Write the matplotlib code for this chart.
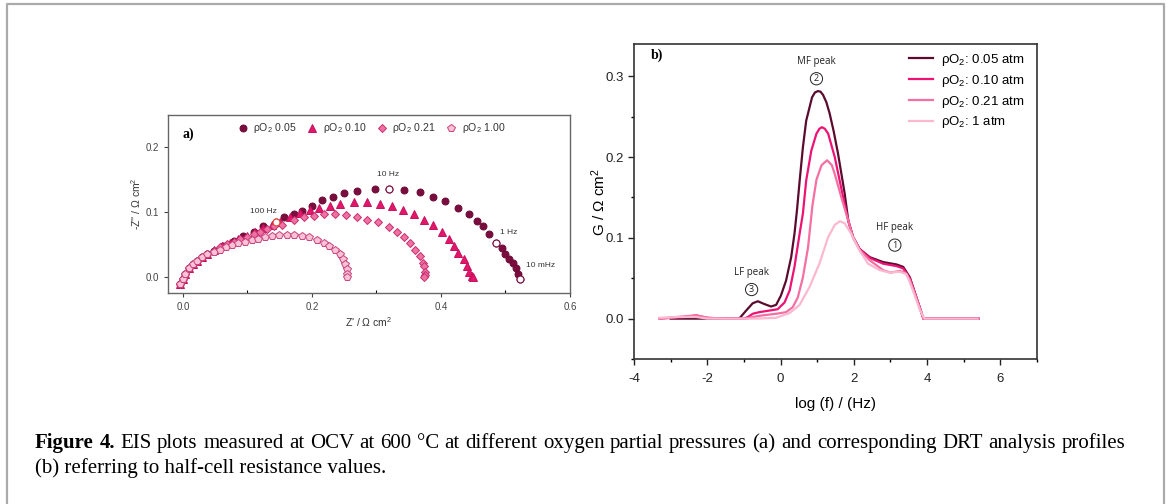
import matplotlib
matplotlib.use('Agg')
import matplotlib.pyplot as plt
from matplotlib.ticker import MultipleLocator

plt.rcParams['font.family'] = ['Liberation Sans', 'DejaVu Sans']
plt.rcParams['mathtext.fontset'] = 'custom'
plt.rcParams['mathtext.rm'] = 'Liberation Sans'
plt.rcParams['mathtext.it'] = 'Liberation Sans:italic'
plt.rcParams['axes.unicode_minus'] = False

# ---- panel a: Nyquist data (Z', -Z'' in ohm cm2) ----
nyq_labels = ['0.05', '0.10', '0.21', '1.00']
re_005 = [-0.004, 0.000, 0.004, 0.009, 0.015, 0.022, 0.029, 0.038, 0.048, 0.063, 0.079, 0.094, 0.110, 0.125,
          0.144, 0.156, 0.172, 0.184, 0.200, 0.216, 0.233, 0.249, 0.270, 0.298, 0.320, 0.343, 0.367, 0.388,
          0.406, 0.426, 0.443, 0.456, 0.465, 0.474, 0.485, 0.494, 0.500, 0.506, 0.512, 0.516, 0.519, 0.522]
im_005 = [-0.011, -0.003, 0.005, 0.013, 0.020, 0.025, 0.030, 0.035, 0.040, 0.048, 0.055, 0.063, 0.070, 0.078,
          0.085, 0.092, 0.097, 0.102, 0.110, 0.118, 0.123, 0.130, 0.133, 0.135, 0.136, 0.134, 0.131, 0.124,
          0.117, 0.107, 0.097, 0.087, 0.078, 0.066, 0.053, 0.044, 0.036, 0.028, 0.021, 0.013, 0.005, -0.003]
re_010 = [-0.004, 0.000, 0.004, 0.009, 0.015, 0.022, 0.029, 0.038, 0.048, 0.060, 0.073, 0.086, 0.099, 0.112,
          0.125, 0.138, 0.151, 0.166, 0.182, 0.197, 0.211, 0.228, 0.244, 0.265, 0.285, 0.306, 0.324, 0.341,
          0.359, 0.373, 0.387, 0.402, 0.412, 0.421, 0.427, 0.435, 0.440, 0.444, 0.448, 0.450]
im_010 = [-0.011, -0.003, 0.005, 0.013, 0.020, 0.025, 0.030, 0.035, 0.041, 0.047, 0.053, 0.058, 0.063, 0.069,
          0.075, 0.080, 0.085, 0.092, 0.098, 0.104, 0.106, 0.110, 0.112, 0.116, 0.116, 0.113, 0.110, 0.104,
          0.097, 0.088, 0.080, 0.069, 0.058, 0.048, 0.037, 0.027, 0.017, 0.008, 0.002, 0.000]
re_021 = [-0.004, 0.000, 0.004, 0.009, 0.015, 0.022, 0.029, 0.038, 0.048, 0.058, 0.068, 0.079, 0.089, 0.099,
          0.110, 0.120, 0.130, 0.141, 0.153, 0.172, 0.187, 0.203, 0.218, 0.236, 0.253, 0.270, 0.286, 0.303,
          0.319, 0.332, 0.342, 0.352, 0.360, 0.367, 0.372, 0.374, 0.376, 0.376, 0.373]
im_021 = [-0.011, -0.003, 0.005, 0.013, 0.020, 0.025, 0.030, 0.035, 0.040, 0.046, 0.050, 0.054, 0.059, 0.062,
          0.066, 0.070, 0.074, 0.078, 0.080, 0.088, 0.092, 0.094, 0.097, 0.097, 0.096, 0.092, 0.088, 0.084,
          0.077, 0.069, 0.062, 0.053, 0.042, 0.032, 0.021, 0.016, 0.008, 0.003, 0.000]
re_100 = [-0.004, 0.000, 0.004, 0.009, 0.015, 0.022, 0.029, 0.038, 0.048, 0.057, 0.067, 0.076, 0.086, 0.097,
          0.107, 0.117, 0.128, 0.138, 0.149, 0.161, 0.173, 0.184, 0.196, 0.208, 0.218, 0.227, 0.236, 0.243,
          0.248, 0.252, 0.254, 0.255, 0.255]
im_100 = [-0.011, -0.003, 0.005, 0.013, 0.020, 0.025, 0.030, 0.035, 0.039, 0.042, 0.046, 0.049, 0.052, 0.054,
          0.057, 0.059, 0.061, 0.063, 0.064, 0.064, 0.064, 0.063, 0.061, 0.057, 0.053, 0.048, 0.041, 0.035,
          0.027, 0.020, 0.012, 0.005, 0.000]
# frequency markers on the 0.05 series (index into re_005 / im_005)
freq_names = ['100 Hz', '10 Hz', '1 Hz', '10 mHz']
freq_idx = [14, 24, 34, 41]

# ---- panel b: DRT profiles ----
drt_labels = ['0.05 atm', '0.10 atm', '0.21 atm', '1 atm']
lf_005 = [-3.0, -2.0, -1.3, -1.12, -0.94, -0.76, -0.62, -0.44, -0.26, -0.12, 0.01, 0.15, 0.29, 0.38, 0.45, 0.52,
          0.61, 0.70, 0.86, 0.94, 1.02, 1.09, 1.16, 1.25, 1.34, 1.45, 1.57, 1.75, 1.85, 1.98, 2.16, 2.44, 2.80,
          3.17, 3.35, 3.53, 3.71, 3.90, 5.40]
g_005 = [0.0, 0.0, 0.0, 0.0004, 0.0099, 0.019, 0.0215, 0.018, 0.015, 0.017, 0.0285, 0.047, 0.076, 0.105, 0.135,
         0.170, 0.212, 0.245, 0.274, 0.280, 0.2817, 0.281, 0.277, 0.268, 0.254, 0.232, 0.204, 0.155, 0.121, 0.101,
         0.086, 0.076, 0.070, 0.067, 0.064, 0.051, 0.026, 0.0, 0.0]
lf_010 = [-3.3, -2.6, -2.3, -2.0, -1.5, -1.0, -0.89, -0.76, -0.58, -0.30, -0.08, 0.11, 0.25, 0.38, 0.52, 0.61,
          0.70, 0.84, 0.98, 1.06, 1.13, 1.21, 1.30, 1.48, 1.71, 1.85, 1.98, 2.16, 2.44, 2.80, 3.17, 3.35, 3.53,
          3.71, 3.90, 5.40]
g_010 = [0.0, 0.002, 0.004, 0.001, 0.0, 0.0, 0.002, 0.006, 0.008, 0.010, 0.0116, 0.020, 0.035, 0.064, 0.105,
         0.130, 0.171, 0.208, 0.229, 0.235, 0.237, 0.235, 0.229, 0.200, 0.150, 0.121, 0.101, 0.086, 0.075, 0.068,
         0.065, 0.062, 0.050, 0.026, 0.0, 0.0]
lf_021 = [-3.3, -2.6, -2.3, -2.0, -1.5, -0.94, -0.76, -0.49, -0.12, 0.15, 0.33, 0.47, 0.61, 0.75, 0.87, 0.98,
          1.12, 1.27, 1.40, 1.48, 1.66, 1.85, 1.98, 2.16, 2.44, 2.80, 3.00, 3.25, 3.40, 3.53, 3.71, 3.90, 5.40]
g_021 = [0.0, 0.003, 0.004, 0.001, 0.0, 0.0, 0.002, 0.004, 0.006, 0.008, 0.014, 0.026, 0.051, 0.088, 0.140,
         0.172, 0.190, 0.196, 0.190, 0.179, 0.150, 0.121, 0.100, 0.085, 0.072, 0.060, 0.057, 0.059, 0.057,
         0.048, 0.025, 0.0, 0.0]
lf_100 = [-3.3, -2.8, -2.3, -2.0, -1.0, -0.65, -0.12, 0.25, 0.52, 0.79, 1.06, 1.30, 1.48, 1.62, 1.75, 1.93,
          2.16, 2.39, 2.71, 2.98, 3.25, 3.44, 3.62, 3.81, 3.93, 5.38]
g_100 = [0.001, 0.002, 0.002, 0.0, 0.0, 0.0, 0.001, 0.007, 0.017, 0.039, 0.068, 0.101, 0.116, 0.1206, 0.118,
         0.105, 0.084, 0.068, 0.060, 0.057, 0.058, 0.055, 0.034, 0.010, 0.0, 0.0]

caption_1 = ('Figure 4. EIS plots measured at OCV at 600 \u00b0C at different oxygen partial pressures (a) '
             'and corresponding DRT analysis profiles')
caption_2 = '(b) referring to half-cell resistance values.'

fig = plt.figure(figsize=(11.7, 5.04), dpi=100)

# page frame and caption (background axes in pixel units)
bg = fig.add_axes([0, 0, 1, 1], zorder=-5)
bg.set_xlim(0, 1170)
bg.set_ylim(504, 0)
bg.axis('off')
bg.plot([7, 7, 1164, 1164], [504, 4, 4, 504], color='#aaaaaa', lw=1.6)
cap_font = ['Liberation Serif', 'DejaVu Serif']
cap_size = 15
# first line is justified: place word by word
renderer = fig.canvas.get_renderer()
words = caption_1.split(' ')
word_texts = []
for i, w in enumerate(words):
    word_texts.append(bg.text(0, 448, w, fontsize=cap_size, family=cap_font, va='baseline',
                              fontweight='bold' if i < 2 else 'normal'))
widths = [t.get_window_extent(renderer).width for t in word_texts]
gap = (1125 - 35 - sum(widths)) / (len(words) - 1)
x = 35
for t, w in zip(word_texts, widths):
    t.set_x(x)
    x += w + gap
bg.text(35, 473, caption_2, fontsize=cap_size, family=cap_font, va='baseline')

# ---------------- panel a ----------------
ax1 = fig.add_axes([168 / 1170, 1 - 293 / 504, 402 / 1170, 178 / 504])
series_a = [(re_005, im_005, 'o', '#7b0c3e', '#6a0a35', 5.0),
            (re_010, im_010, '^', '#e2166b', '#c8105c', 5.2),
            (re_021, im_021, 'D', '#ee72a3', '#c8306f', 4.2),
            (re_100, im_100, 'p', '#f9c2d6', '#c8427c', 5.4)]
for (x, y, m, fc, ec, ms), lab in zip(series_a, nyq_labels):
    ax1.plot(x, y, ls='none', marker=m, mfc=fc, mec=ec, mew=0.7, ms=ms,
             label='\u03c1O$_2$ ' + lab)
for k, i in enumerate(freq_idx):
    ec = '#e8402a' if k == 0 else '#7b0c3e'
    ax1.plot(re_005[i], im_005[i], ls='none', marker='o', mfc='white', mec=ec, mew=0.8, ms=5.0)
freq_text_pos = [(0.125, 0.101), (0.318, 0.158), (0.505, 0.069), (0.554, 0.017)]
for name, (tx, ty) in zip(freq_names, freq_text_pos):
    ax1.text(tx, ty, name, fontsize=6, color='#333333', ha='center', va='center')
ax1.text(0.000, 0.221, 'a)', fontsize=10, fontweight='bold', family=['Liberation Serif'], va='center')
ax1.legend(loc='upper left', bbox_to_anchor=(0.173, 0.965), ncol=4, frameon=False, fontsize=7.6,
           handlelength=1.0, handletextpad=0.5, columnspacing=0.95, borderaxespad=0, borderpad=0,
           labelcolor='#333333')
ax1.set_xlim(-0.023, 0.6)
ax1.set_ylim(-0.025, 0.25)
ax1.set_xticks([0.0, 0.2, 0.4, 0.6])
ax1.set_yticks([0.0, 0.1, 0.2])
ax1.xaxis.set_minor_locator(MultipleLocator(0.1))
ax1.tick_params(labelsize=7, colors='#444444', length=3, width=0.8)
ax1.tick_params(axis='x', which='minor', direction='in', length=2, width=0.8)
ax1.set_xlabel("Z' / \u03a9 cm$^2$", fontsize=7.5, color='#333333', labelpad=2)
ax1.set_ylabel("-Z'' / \u03a9 cm$^2$", fontsize=7.5, color='#333333', labelpad=2)
for s in ax1.spines.values():
    s.set_color('#666666')
    s.set_linewidth(1.0)

# ---------------- panel b ----------------
ax2 = fig.add_axes([634 / 1170, 1 - 359 / 504, 403 / 1170, 315 / 504])
drt_colors = ['#5a0b2e', '#ee1274', '#f56fa2', '#fbb8d0']
drt_data = [(lf_005, g_005), (lf_010, g_010), (lf_021, g_021), (lf_100, g_100)]
for (x, y), c, lab in zip(drt_data, drt_colors, drt_labels):
    ax2.plot(x, y, color=c, lw=1.6, label='\u03c1O$_2$: ' + lab)
ax2.legend(loc='upper left', bbox_to_anchor=(909 / 1170, 1 - 52 / 504), bbox_transform=fig.transFigure,
           frameon=False, fontsize=9.5, handlelength=1.85, handletextpad=0.6, labelspacing=0.36,
           borderaxespad=0, borderpad=0)
peak_font = ['Open Sans', 'DejaVu Sans']
peaks = [('MF peak', '2', 0.98, 0.318, 0.297), ('HF peak', '1', 3.12, 0.113, 0.091),
         ('LF peak', '3', -0.79, 0.057, 0.036)]
for name, num, px, py, cy in peaks:
    ax2.text(px, py, name, fontsize=7, family=peak_font, ha='center', va='center', color='#222222')
    ax2.text(px, cy, num, fontsize=6.5, family=peak_font, ha='center', va='center', color='#222222',
             bbox=dict(boxstyle='circle,pad=0.18', fc='none', ec='#222222', lw=0.7))
ax2.text(-3.54, 0.326, 'b)', fontsize=10, fontweight='bold', family=['Liberation Serif'], va='center')
ax2.set_xlim(-4, 7)
ax2.set_ylim(-0.05, 0.34)
ax2.set_xticks([-4, -2, 0, 2, 4, 6])
ax2.set_yticks([0.0, 0.1, 0.2, 0.3])
ax2.xaxis.set_minor_locator(MultipleLocator(1))
ax2.yaxis.set_minor_locator(MultipleLocator(0.05))
ax2.tick_params(labelsize=9.5, colors='#222222', length=4, width=1.0)
ax2.tick_params(axis='x', pad=6)
ax2.tick_params(which='minor', length=2.5, width=1.0)
ax2.set_xlabel('log (f) / (Hz)', fontsize=11, labelpad=9)
ax2.set_ylabel('G / \u03a9 cm$^2$', fontsize=11, labelpad=-2)
for s in ax2.spines.values():
    s.set_color('#333333')
    s.set_linewidth(1.2)

fig.savefig('out.png', dpi=100)
